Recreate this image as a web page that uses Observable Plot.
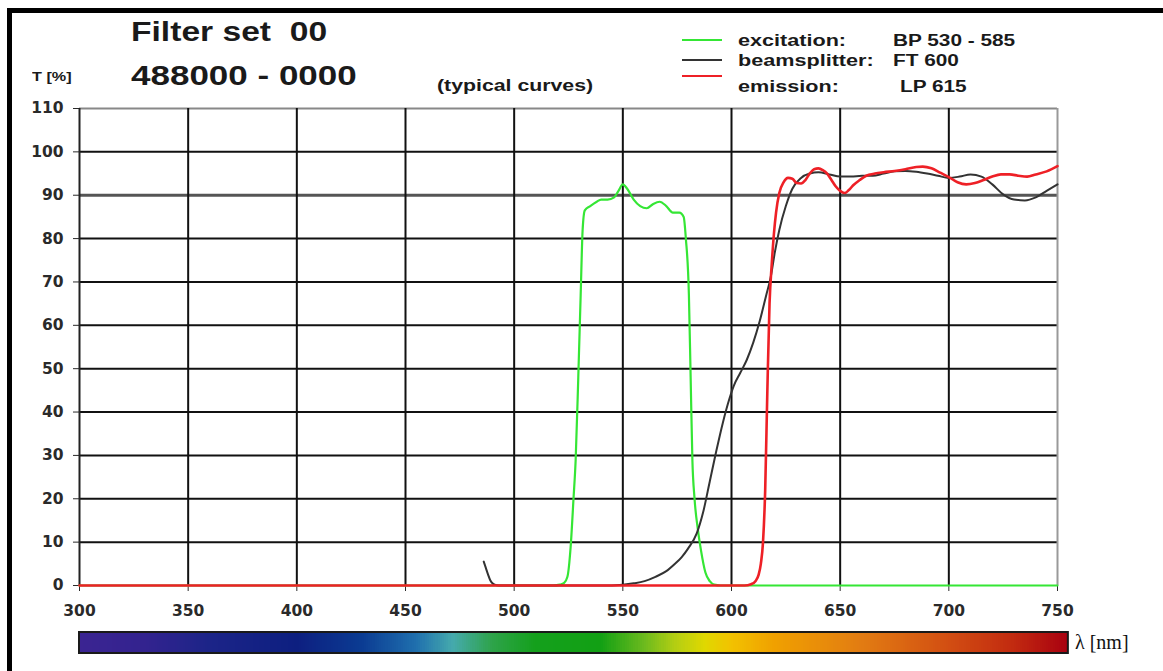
<!DOCTYPE html>
<html>
<head>
<meta charset="utf-8">
<script src="https://cdn.jsdelivr.net/npm/d3@7"></script>
<script src="https://cdn.jsdelivr.net/npm/@observablehq/plot@0.6"></script>
<style>
  html, body { margin: 0; padding: 0; background: #fff; }
  #root { position: relative; width: 1163px; height: 671px; overflow: hidden; background: #fff; }
  #root svg { position: absolute; left: 0; }
  .t { position: absolute; white-space: pre; font-family: "Liberation Sans", Arial, sans-serif; font-weight: bold; color: #1a1a1a; line-height: 1; transform-origin: left center; }
  .frame { position: absolute; background: #000; }
  .lg { position: absolute; height: 2px; width: 40px; }
</style>
</head>
<body>
<div id="root"></div>
<script>
// ---- data ----
const xTicks = [300, 350, 400, 450, 500, 550, 600, 650, 700, 750];
const yTicks = [0, 10, 20, 30, 40, 50, 60, 70, 80, 90, 100, 110];

const excitationNm = [300, 518, 521, 523, 524.5, 526, 527.3, 528.3, 529.5, 530.6, 531.5, 532.5, 535, 538, 540, 543, 546, 548, 550, 552, 555, 558, 561, 564, 567, 570, 573, 576, 578, 579, 580.4, 581.2, 582, 583, 584.5, 586, 588, 590, 592, 595, 750];
const excitationT  = [0, 0, 0.2, 0.6, 2, 9, 20, 29, 48, 67, 82, 86.5, 87.5, 88.5, 89, 89, 89.5, 91, 92.5, 91.5, 89, 87.5, 87, 88, 88.5, 87.5, 86, 86, 85, 80, 67, 48, 29, 20, 13, 8, 3, 1, 0.2, 0, 0];

const beamsplitterNm = [486, 487, 488, 489, 490, 491, 493, 500, 520, 540, 550, 555, 560, 565, 570, 574, 577, 580, 584, 587, 590, 593, 596, 599, 601, 604, 607, 610, 613, 616, 618, 620, 622, 625, 628, 632, 636, 640, 645, 650, 655, 660, 665, 670, 675, 680, 685, 690, 695, 700, 705, 710, 715, 720, 725, 730, 735, 740, 745, 750];
const beamsplitterT  = [5.5, 4, 2.5, 1.2, 0.5, 0.2, 0, 0, 0, 0, 0.2, 0.5, 1, 2, 3.3, 5, 6.5, 8.5, 12, 17, 24, 31, 37.5, 43, 46, 49, 52, 56, 61, 67, 71, 77, 82, 87.5, 91.5, 94, 95, 95.3, 94.8, 94.3, 94.3, 94.5, 94.5, 95, 95.5, 95.6, 95.4, 95, 94.5, 94, 94.3, 94.8, 94.3, 92.5, 90.2, 89, 88.8, 89.5, 91, 92.5];

const emissionNm = [300, 606, 609, 611, 612.5, 613.5, 614.5, 615.5, 616.5, 617.5, 618.5, 619.5, 620.5, 622, 624, 626, 628, 630, 632, 634, 636, 638, 640, 642, 644, 646, 648, 650, 652, 654, 656, 659, 662, 666, 670, 675, 680, 685, 688, 692, 696, 700, 704, 708, 712, 716, 720, 724, 728, 732, 736, 740, 745, 750];
const emissionT  = [0, 0, 0.3, 1, 2.5, 5, 10, 22, 45, 65, 74, 81, 86, 90.5, 93, 94, 93.8, 92.8, 92.7, 93.5, 95, 96, 96.2, 95.8, 95, 93.5, 92, 91, 90.5, 91.2, 92.3, 93.5, 94.5, 95, 95.3, 95.6, 96, 96.5, 96.6, 96.2, 95.2, 94.2, 93, 92.5, 92.8, 93.5, 94.3, 94.8, 94.8, 94.5, 94.3, 94.8, 95.5, 96.7];

const seriesColors = { excitation: "#35e635", beamsplitter: "#333333", emission: "#ee2026" };

const spectrumNm     = [300, 330, 360, 400, 430, 455, 472, 490, 510, 540, 560, 575, 588, 600, 620, 660, 700, 730, 755];
const spectrumColors = ["#3b2492", "#33238f", "#1c2488", "#0d1f80", "#0b3b92", "#1f6fae", "#45aaad", "#2ea34a", "#14a01c", "#12a014", "#6cba1e", "#b6cf12", "#e0d800", "#f2c200", "#f0a000", "#e27c12", "#d24e12", "#c22a10", "#a80010"];

const barEnd = 755;

// ---- build ----
const toRows = (nm, t) => nm.map((x, i) => ({ x, y: t[i] }));
const exc = toRows(excitationNm, excitationT);
const bs = toRows(beamsplitterNm, beamsplitterT);
const em = toRows(emissionNm, emissionT);

const root = document.getElementById("root");

const darkY = yTicks.filter(v => v > 0 && v < 110 && v !== 90);
const darkX = xTicks.filter(v => v > 300 && v < 750);

const mainPlot = Plot.plot({
  width: 1163,
  height: 630,
  marginLeft: 79,
  marginRight: 106,
  marginTop: 108,
  marginBottom: 45,
  style: { background: "transparent", fontFamily: "'DejaVu Sans', sans-serif", fontSize: "15.5px", fontWeight: "bold", color: "#2a2a2a" },
  x: { domain: [300, 750], ticks: xTicks, tickSize: 6, tickPadding: 13, label: null },
  y: { domain: [0, 110], ticks: yTicks, tickSize: 6, tickPadding: 10, label: null },
  marks: [
    Plot.ruleY(darkY, { stroke: "#111", strokeWidth: 2 }),
    Plot.ruleY([90], { stroke: "#555", strokeWidth: 3 }),
    Plot.ruleY([110], { stroke: "#888", strokeWidth: 2 }),
    Plot.ruleX(darkX, { y1: 0, y2: 110, stroke: "#111", strokeWidth: 2 }),
    Plot.ruleX([750], { y1: 0, y2: 110, stroke: "#999", strokeWidth: 2 }),
    Plot.ruleX([300], { y1: 0, y2: 110, stroke: "#222", strokeWidth: 2 }),
    Plot.line(exc, { x: "x", y: "y", stroke: seriesColors.excitation, strokeWidth: 2.2, curve: "monotone-x" }),
    Plot.line(bs, { x: "x", y: "y", stroke: seriesColors.beamsplitter, strokeWidth: 2, curve: "monotone-x" }),
    Plot.line(em, { x: "x", y: "y", stroke: seriesColors.emission, strokeWidth: 2.6, curve: "monotone-x" })
  ]
});
mainPlot.style.top = "0px";
root.appendChild(mainPlot);

const color = d3.scaleLinear().domain(spectrumNm).range(spectrumColors).interpolate(d3.interpolateRgb);
const steps = d3.range(300, barEnd, 1);

const barPlot = Plot.plot({
  width: 1163,
  height: 34,
  marginLeft: 79,
  marginRight: 106,
  marginTop: 6,
  marginBottom: 7,
  style: { background: "transparent" },
  x: { domain: [300, 750], axis: null },
  y: { domain: [0, 1], axis: null },
  marks: [
    Plot.rect(steps, { x1: d => d, x2: d => Math.min(d + 1.6, barEnd), y1: 0, y2: 1, fill: d => color(d + 0.5), shapeRendering: "crispEdges" }),
    Plot.rect([{ a: 300, b: barEnd }], { x1: "a", x2: "b", y1: 0, y2: 1, fill: "none", stroke: "#1a1a1a", strokeWidth: 2 })
  ]
});
barPlot.style.top = "626px";
root.appendChild(barPlot);

// ---- texts ----
function addText(txt, leftPx, topPx, size, sx, extra) {
  const d = document.createElement("div");
  d.className = "t";
  d.textContent = txt;
  d.style.left = leftPx + "px";
  d.style.top = topPx + "px";
  d.style.fontSize = size + "px";
  d.style.transform = `scaleX(${sx})`;
  if (extra) Object.assign(d.style, extra);
  root.appendChild(d);
  return d;
}
addText("Filter set  00", 131, 18, 28, 1.2);
addText("488000 - 0000", 131, 62, 28, 1.25);
addText("T [%]", 32, 71, 12, 1.35);
addText("(typical curves)", 437, 78, 16, 1.33);

addText("excitation:", 738, 33, 16, 1.35);
addText("BP 530 - 585", 893, 33, 16, 1.3);
addText("beamsplitter:", 738, 53, 16, 1.35);
addText("FT 600", 893, 53, 16, 1.3);
addText("emission:", 738, 79, 16, 1.35);
addText("LP 615", 900, 79, 16, 1.3);
addText("λ [nm]", 1075, 632, 20, 1.0, { fontFamily: "'Liberation Serif', 'Times New Roman', serif", fontWeight: "normal", color: "#111" });

const legendLines = [["excitation", 40], ["beamsplitter", 60], ["emission", 76]];
for (const [k, y] of legendLines) {
  const l = document.createElement("div");
  l.className = "lg";
  l.style.left = "682px";
  l.style.top = (y - 1) + "px";
  l.style.background = seriesColors[k];
  root.appendChild(l);
}

// frame bars (top and left)
const frameTop = document.createElement("div");
frameTop.className = "frame"; frameTop.style.left = "7px"; frameTop.style.top = "8px"; frameTop.style.width = "1156px"; frameTop.style.height = "5px";
root.appendChild(frameTop);
const frameLeft = document.createElement("div");
frameLeft.className = "frame"; frameLeft.style.left = "7px"; frameLeft.style.top = "8px"; frameLeft.style.width = "5px"; frameLeft.style.height = "663px";
root.appendChild(frameLeft);
</script>
</body>
</html>
